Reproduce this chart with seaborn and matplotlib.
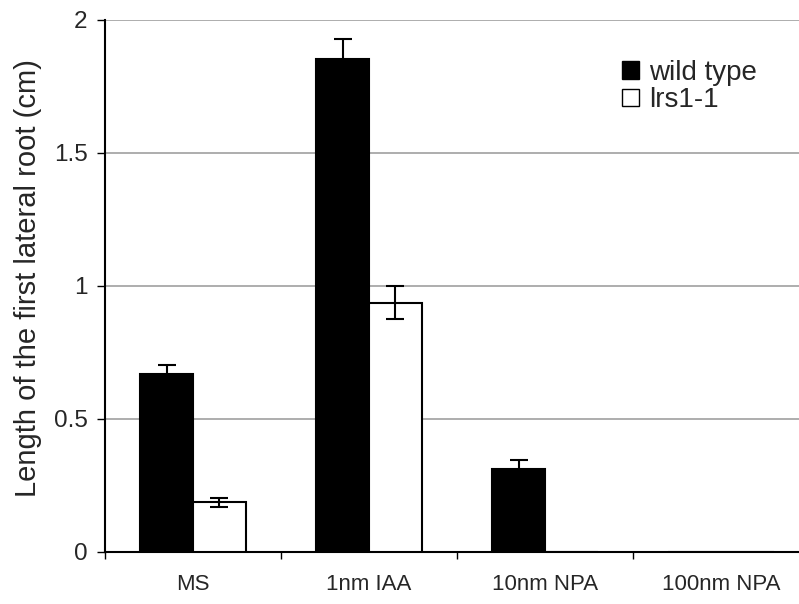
import matplotlib
matplotlib.use("Agg")
import matplotlib.pyplot as plt
import seaborn as sns
import pandas as pd
from matplotlib.patches import Patch

# Mean length of the first lateral root per treatment and genotype
treatments = ["MS", "1nm IAA", "10nm NPA", "100nm NPA"]
genotypes = ["wild type", "lrs1-1"]
wild_type = [0.67, 1.855, 0.313, 0.0]
lrs1_1 = [0.187, 0.937, 0.0, 0.0]
wild_type_err = [0.032, 0.072, 0.033, 0.0]
lrs1_1_err = [0.017, 0.062, 0.0, 0.0]

df = pd.DataFrame({
    "treatment": treatments * 2,
    "genotype": [genotypes[0]] * 4 + [genotypes[1]] * 4,
    "length": wild_type + lrs1_1,
    "err": wild_type_err + lrs1_1_err,
})

sns.set_style("white")
plt.rcParams["font.family"] = ["Liberation Sans", "DejaVu Sans"]

fig = plt.figure(figsize=(7.99, 6.04), dpi=100)
ax = fig.add_axes([0.1314, 0.0861, 1.0 - 0.1314, 0.8808])

sns.barplot(
    data=df, x="treatment", y="length", hue="genotype",
    order=treatments, hue_order=genotypes,
    palette=["black", "white"], edgecolor="black", linewidth=1.5,
    width=0.6, errorbar=None, legend=False, ax=ax, zorder=3,
)

# Error bars placed on the centre of each drawn bar
for patch, (_, row) in zip(ax.patches, df.iterrows()):
    if row["err"] > 0:
        xc = patch.get_x() + patch.get_width() / 2
        ax.errorbar(xc, patch.get_height(), yerr=row["err"], fmt="none",
                    ecolor="black", elinewidth=1.5, capsize=6.5, capthick=1.5,
                    zorder=4)

ax.set_xlim(-0.5, 3.443)
ax.set_ylim(0, 2)
ax.set_yticks([0, 0.5, 1, 1.5, 2])
ax.set_yticklabels(["0", "0.5", "1", "1.5", "2"])
ax.yaxis.grid(True, color="#a0a0a0", linewidth=1.2, zorder=0)
ax.set_axisbelow(True)

# Category labels centred, tick marks at category boundaries
ax.set_xticks(range(len(treatments)))
ax.set_xticklabels(treatments)
ax.set_xticks([-0.5, 0.5, 1.5, 2.5], minor=True)
ax.tick_params(axis="x", which="major", length=0, pad=16, labelsize=16)
ax.tick_params(axis="x", which="minor", length=5, width=1, color="black",
               direction="out", bottom=True)
ax.tick_params(axis="y", length=6, width=1, color="black", direction="out",
               left=True, labelsize=17.5, pad=6.5)

for side in ["top", "right"]:
    ax.spines[side].set_visible(False)
for side in ["left", "bottom"]:
    ax.spines[side].set_color("black")
    ax.spines[side].set_linewidth(1.5)

ax.set_xlabel("")
ax.set_ylabel("Length of the first lateral root (cm)", fontsize=21)
ax.yaxis.set_label_coords(-0.0908, 0.514)

handles = [Patch(facecolor="black", edgecolor="black"),
           Patch(facecolor="white", edgecolor="black")]
ax.legend(handles, genotypes, loc="upper left",
          bbox_to_anchor=(622 / 799, 1 - 60 / 604),
          bbox_transform=fig.transFigure,
          frameon=False, fontsize=20, handlelength=0.6, handleheight=0.6,
          handletextpad=0.36, labelspacing=0.05, borderpad=0,
          borderaxespad=0)

fig.savefig("out.png", dpi=100)
